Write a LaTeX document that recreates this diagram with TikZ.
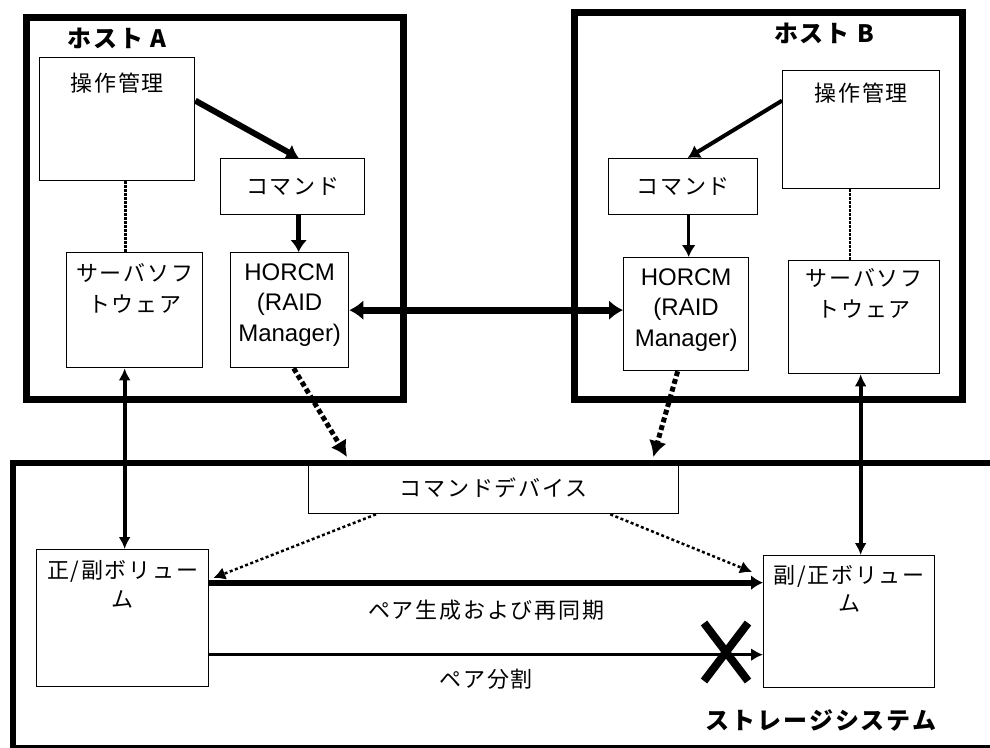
\documentclass[tikz,border=0pt]{standalone}
\usepackage{fontspec}
\setmainfont{Liberation Sans}
\newfontfamily\jp[LetterSpace=8]{Noto Sans CJK JP}
\usetikzlibrary{arrows.meta,positioning,calc,shapes.misc}
\tikzset{
 hostframe/.style={draw=black,line width=7pt,anchor=north west,inner sep=0pt},
 box/.style={draw=black,line width=1.3pt,anchor=north west,inner sep=0pt},
 jptext/.style={font=\jp\fontsize{22}{31}\selectfont,align=center,inner sep=0pt},
 entext/.style={font=\fontsize{24}{30.5}\selectfont,align=center,inner sep=0pt},
 titletext/.style={font=\jp\bfseries\fontsize{24}{28}\selectfont,inner sep=0pt},
 cmdarrow/.style={-{Latex[length=12pt,width=17pt]},line width=6pt},
 linkarrow/.style={{Latex[length=14pt,width=20pt]}-{Latex[length=14pt,width=20pt]},line width=7pt},
 devarrow/.style={-{Latex[length=16pt,width=18pt]},line width=5pt,dash pattern=on 5pt off 3pt},
 volarrow/.style={-{Latex[length=12pt,width=13pt]},line width=2.5pt,dash pattern=on 3pt off 2.5pt},
 mgmtlink/.style={line width=3pt,dash pattern=on 3pt off 1pt},
 serverlink/.style={{Latex[length=12pt,width=12pt]}-{Latex[length=12pt,width=12pt]},line width=4pt}
}
\begin{document}
\begin{tikzpicture}[x=1pt,y=-1pt]
 \useasboundingbox (0,0) rectangle (990,747);
 % frames
 \node[hostframe,minimum width=377pt,minimum height=382pt] (hostA) at (23,14) {};
 \node[hostframe,minimum width=388pt,minimum height=387pt] (hostB) at (571,9) {};
 \node[hostframe,line width=6pt,minimum width=981pt,minimum height=285pt] (storage) at (10,460) {};
 \node[titletext] (hostAt) at (117,38) {ホスト A};
 \node[titletext] (hostBt) at (824,33) {ホスト B};
 \node[titletext] (storaget) at (821,720) {ストレージシステム};
 % host A
 \node[box,minimum width=155pt,minimum height=123pt] (opA) at (39,57) {};
 \node[jptext,below=15.5pt of opA.north] (opAt) {操作管理};
 \node[box,jptext,minimum width=144pt,minimum height=56pt] (cmdA) at (220,158) {コマンド};
 \node[box,minimum width=136pt,minimum height=115pt] (srvA) at (66,252) {};
 \node[jptext,below=11.5pt of srvA.north] (srvAt) {サーバソフ\\トウェア};
 \node[box,minimum width=118pt,minimum height=115pt] (horcmA) at (230,252) {};
 \node[entext,below=11.4pt of horcmA.north] (horcmAt) {HORCM\\(RAID\\Manager)};
 % host B
 \node[box,minimum width=157pt,minimum height=118pt] (opB) at (782,70) {};
 \node[jptext,below=12.5pt of opB.north] (opBt) {操作管理};
 \node[box,jptext,minimum width=149pt,minimum height=56pt] (cmdB) at (608,158) {コマンド};
 \node[box,minimum width=125pt,minimum height=113pt] (horcmB) at (623,257) {};
 \node[entext,below=11.4pt of horcmB.north] (horcmBt) {HORCM\\(RAID\\Manager)};
 \node[box,minimum width=151pt,minimum height=113pt] (srvB) at (788,260) {};
 \node[jptext,below=8.5pt of srvB.north] (srvBt) {サーバソフ\\トウェア};
 % storage system
 \node[box,jptext,minimum width=370pt,minimum height=51pt] (cmddev) at (308,462) {コマンドデバイス};
 \node[box,minimum width=172pt,minimum height=137pt] (volA) at (36,549) {};
 \node[jptext,font=\jp\fontsize{22}{29}\selectfont,below=11.5pt of volA.north] (volAt) {正/副ボリュー\\ム};
 \node[box,minimum width=171pt,minimum height=132pt] (volB) at (763,555) {};
 \node[jptext,font=\jp\fontsize{22}{28}\selectfont,below=10.5pt of volB.north] (volBt) {副/正ボリュー\\ム};
 \node[cross out,draw,line width=8pt,minimum width=36pt,minimum height=50pt,inner sep=0pt] (cut) at (726,652) {};
 % connectors in the hosts
 \coordinate (cA) at ([xshift=6pt]cmdA.south);
 \coordinate (cB) at ([xshift=5.5pt]cmdB.south);
 \coordinate (mA) at ([xshift=8.5pt]opA.south);
 \coordinate (mB) at ([xshift=-11.5pt]opB.south);
 \draw[cmdarrow] ([yshift=18.5pt]opA.east) -- ([xshift=6pt]cmdA.north);
 \draw[cmdarrow,line width=5pt] (cA) -- (cA |- horcmA.north);
 \draw[cmdarrow,line width=4pt,-{Latex[length=12pt,width=15pt]}] ([yshift=29pt]opB.west) -- ([xshift=4.5pt]cmdB.north);
 \draw[cmdarrow,line width=3pt,-{Latex[length=12pt,width=14pt]}] (cB) -- (cB |- horcmB.north);
 \draw[mgmtlink] (mA) -- (mA |- srvA.north);
 \draw[mgmtlink,line width=2pt] (mB) -- (mB |- srvB.north);
 \draw[linkarrow] (horcmA.east) -- (horcmA.east -| horcmB.west);
 % connectors to the storage system
 \draw[devarrow] ([xshift=4pt]horcmA.south) -- ($(cmddev.north west)+(39,-5)$);
 \draw[devarrow] ([xshift=-8.5pt]horcmB.south) -- ($(cmddev.north east)+(-26,-5)$);
 \draw[volarrow] ($(cmddev.south west)+(68,0)$) -- ($(volA.north east)+(4,29)$);
 \draw[volarrow] ($(cmddev.south east)+(-69,0)$) -- ($(volB.north west)+(-11,17)$);
 \coordinate (sA) at ([xshift=2pt]volA.north);
 \coordinate (sB) at ([xshift=-3.5pt]srvB.south);
 \draw[serverlink] (sA |- srvA.south) -- (sA);
 \draw[serverlink] (sB) -- (sB |- volB.north);
 % pair operations
 \coordinate (pS) at ([yshift=35.5pt]volA.east);
 \coordinate (pX) at ([yshift=-36.5pt]volA.east);
 \draw[cmdarrow,-{Latex[length=12pt,width=15pt]}] (pS) -- node[jptext,below=14.5pt] (synct) {ペア生成および再同期} (pS -| volB.west);
 \draw[cmdarrow,line width=3pt,-{Latex[length=12pt,width=13pt]}] (pX) -- node[jptext,below=12.5pt] (splitt) {ペア分割} (pX -| volB.west);
\end{tikzpicture}
\end{document}
